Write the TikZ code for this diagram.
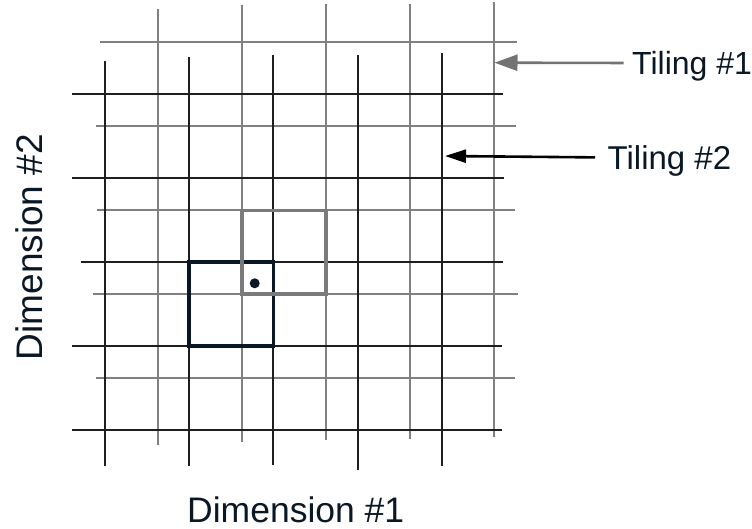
\documentclass[tikz,border=0pt]{standalone}
\usepackage{fontspec}
\setmainfont{Liberation Sans}
\usetikzlibrary{arrows.meta}
\definecolor{inkblue}{RGB}{10,24,38}
\definecolor{tilegray}{RGB}{128,128,128}
\definecolor{tiledark}{RGB}{30,30,30}
\tikzset{
	tilingone/.style={
		draw=tilegray,
		line width=1.3pt,
	},
	tilingtwo/.style={
		draw=tiledark,
		line width=1.3pt,
	},
	cellone/.style={
		draw=tilegray!95!black,
		line width=3.5pt,
	},
	celltwo/.style={
		draw=inkblue,
		line width=3.5pt,
	},
	arrowone/.style={
		draw=tilegray!90!black,
		line width=2.6pt,
		-{Triangle[length=23pt,width=16pt]}
	},
	arrowtwo/.style={
		draw=black,
		line width=2.6pt,
		-{Triangle[length=21pt,width=13pt]}
	},
	dimlabel/.style={
		text=inkblue,
		inner sep=0pt,
		anchor=base west,
	},
	tilelabel/.style={
		text=inkblue,
		inner sep=0pt,
		text depth=0pt,
		anchor=west,
	},
}

\begin{document}
\begin{tikzpicture}[x=1pt,y=-1pt]
		\useasboundingbox (0,0) rectangle (752,529);

		% tiling #1 (gray)
		\foreach \xa/\ya/\yb in {158/9/445, 242/5/442, 326/4/440, 410/4/439, 494/2/437}
			\draw[tilingone] (\xa,\ya) -- (\xa,\yb);
		\foreach \ya/\xa/\xb in {42/100/517, 126/96/516, 210/97/515, 294/93/518, 378/96/515}
			\draw[tilingone] (\xa,\ya) -- (\xb,\ya);

		% tiling #2 (black)
		\foreach \xa/\ya/\yb in {105/61/466, 189/57/466, 273/55/465, 358/55/470, 442/53/466}
			\draw[tilingtwo] (\xa,\ya) -- (\xa,\yb);
		\foreach \ya/\xa/\xb in {94/72/503, 178/72/504, 262/81/503, 346/72/502, 430/72/502}
			\draw[tilingtwo] (\xa,\ya) -- (\xb,\ya);

		% the two tiles holding the point
		\draw[celltwo] (189,262) rectangle (273.5,346);
		\draw[cellone] (242,210.5) rectangle (326,294);
		\fill[inkblue] (254.7,283.3) circle (5);

		% axis names
		\node[dimlabel, font=\fontsize{35.5}{40}\selectfont] (dimone) at (187,522.7) {Dimension \#1};
		\node[dimlabel, font=\fontsize{37}{42}\selectfont, rotate=90] (dimtwo) at (42.5,360.5) {Dimension \#2};

		% tiling labels
		\node[tilelabel, font=\fontsize{32}{38}\selectfont] (tilingA) at (632,63) {Tiling \#1};
		\node[tilelabel, font=\fontsize{33}{38}\selectfont] (tilingB) at (607.5,157.5) {Tiling \#2};

		\coordinate (tipA) at (494.5,62.7);
		\coordinate (tipB) at (445,156);

		\draw[arrowone, shorten <=8.5pt] (tilingA.west) -- (tipA);
		\draw[arrowtwo, shorten <=12.5pt] (tilingB.west) -- (tipB);

	\end{tikzpicture}
\end{document}
